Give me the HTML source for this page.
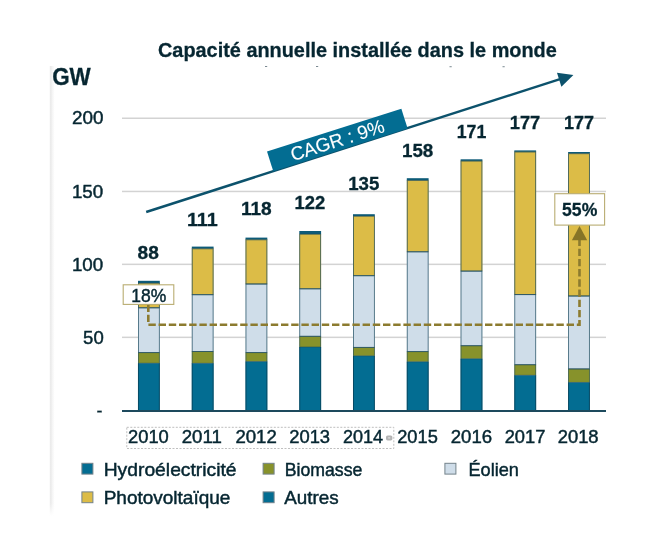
<!DOCTYPE html>
<html lang="fr"><head><meta charset="utf-8"><title>Capacité annuelle installée dans le monde</title>
<style>
html,body{margin:0;padding:0;background:#fff;}
body{width:664px;height:548px;overflow:hidden;}
svg{display:block;filter:blur(0.4px);}
text{font-family:"Liberation Sans",sans-serif;fill:#062631;}
.b{font-weight:bold;stroke-width:0.3px;}
text{stroke:#062631;stroke-width:0.45px;}
</style></head><body>
<svg width="664" height="548" viewBox="0 0 664 548">
<defs>
<linearGradient id="lf" x1="0" y1="0" x2="0" y2="1"><stop offset="0" stop-color="#e4e4e4"/><stop offset="0.93" stop-color="#e4e4e4"/><stop offset="1" stop-color="#ffffff"/></linearGradient>
<linearGradient id="lh" x1="0" y1="0" x2="1" y2="0"><stop offset="0" stop-color="#f1f1f1"/><stop offset="0.22" stop-color="#e9e9e9"/><stop offset="0.45" stop-color="#f3f3f3"/><stop offset="1" stop-color="#ffffff"/></linearGradient>
<linearGradient id="lv" x1="0" y1="0" x2="0" y2="1"><stop offset="0" stop-color="#ffffff" stop-opacity="0"/><stop offset="0.85" stop-color="#ffffff" stop-opacity="1"/></linearGradient>
</defs>
<rect x="0" y="0" width="664" height="548" fill="#ffffff"/>

<rect x="49.7" y="66" width="5" height="451" fill="url(#lh)"/>
<rect x="49" y="503" width="7" height="15" fill="url(#lv)"/>
<rect x="122" y="117.5" width="484" height="1.5" fill="#d3d3d3"/>
<rect x="122" y="190.7" width="484" height="1.5" fill="#d3d3d3"/>
<rect x="122" y="263.6" width="484" height="1.5" fill="#d3d3d3"/>
<rect x="122" y="336.6" width="484" height="1.5" fill="#d3d3d3"/>
<g>
<rect x="138.0" y="280.8" width="21.8" height="2.5" fill="#0d5b78"/>
<rect x="138.0" y="283.0" width="21.8" height="24.8" fill="#dcbc47"/>
<rect x="138.0" y="307.8" width="21.8" height="44.8" fill="#cfdde9"/>
<rect x="138.0" y="352.6" width="21.8" height="10.6" fill="#87922b"/>
<rect x="138.0" y="363.2" width="21.8" height="47.5" fill="#036d92"/>
<rect x="138.45" y="283.2" width="20.90" height="24.6" fill="none" stroke="#1d4b5d" stroke-width="0.9" stroke-opacity="0.8"/>
<rect x="138.45" y="307.8" width="20.90" height="44.8" fill="none" stroke="#1d4b5d" stroke-width="0.9" stroke-opacity="0.75"/>
<rect x="138.45" y="352.6" width="20.90" height="10.6" fill="none" stroke="#1d4b5d" stroke-width="0.9" stroke-opacity="0.6"/>
<path d="M138.45 363.2 V410.2 M159.35 363.2 V410.2" stroke="#083f55" stroke-width="0.9" stroke-opacity="0.85" fill="none"/>
</g>
<g>
<rect x="191.8" y="246.6" width="21.8" height="2.3" fill="#0d5b78"/>
<rect x="191.8" y="248.6" width="21.8" height="46.1" fill="#dcbc47"/>
<rect x="191.8" y="294.7" width="21.8" height="56.8" fill="#cfdde9"/>
<rect x="191.8" y="351.5" width="21.8" height="11.8" fill="#87922b"/>
<rect x="191.8" y="363.3" width="21.8" height="47.4" fill="#036d92"/>
<rect x="192.21" y="248.8" width="20.90" height="45.9" fill="none" stroke="#1d4b5d" stroke-width="0.9" stroke-opacity="0.8"/>
<rect x="192.21" y="294.7" width="20.90" height="56.8" fill="none" stroke="#1d4b5d" stroke-width="0.9" stroke-opacity="0.75"/>
<rect x="192.21" y="351.5" width="20.90" height="11.8" fill="none" stroke="#1d4b5d" stroke-width="0.9" stroke-opacity="0.6"/>
<path d="M192.21 363.3 V410.2 M213.11 363.3 V410.2" stroke="#083f55" stroke-width="0.9" stroke-opacity="0.85" fill="none"/>
</g>
<g>
<rect x="245.5" y="237.6" width="21.8" height="2.3" fill="#0d5b78"/>
<rect x="245.5" y="239.6" width="21.8" height="44.4" fill="#dcbc47"/>
<rect x="245.5" y="284.0" width="21.8" height="68.6" fill="#cfdde9"/>
<rect x="245.5" y="352.6" width="21.8" height="9.0" fill="#87922b"/>
<rect x="245.5" y="361.6" width="21.8" height="49.1" fill="#036d92"/>
<rect x="245.97" y="239.8" width="20.90" height="44.2" fill="none" stroke="#1d4b5d" stroke-width="0.9" stroke-opacity="0.8"/>
<rect x="245.97" y="284.0" width="20.90" height="68.6" fill="none" stroke="#1d4b5d" stroke-width="0.9" stroke-opacity="0.75"/>
<rect x="245.97" y="352.6" width="20.90" height="9.0" fill="none" stroke="#1d4b5d" stroke-width="0.9" stroke-opacity="0.6"/>
<path d="M245.97 361.6 V410.2 M266.87 361.6 V410.2" stroke="#083f55" stroke-width="0.9" stroke-opacity="0.85" fill="none"/>
</g>
<g>
<rect x="299.3" y="231.0" width="21.8" height="3.3" fill="#0d5b78"/>
<rect x="299.3" y="234.0" width="21.8" height="54.8" fill="#dcbc47"/>
<rect x="299.3" y="288.8" width="21.8" height="47.5" fill="#cfdde9"/>
<rect x="299.3" y="336.3" width="21.8" height="10.7" fill="#87922b"/>
<rect x="299.3" y="347.0" width="21.8" height="63.8" fill="#036d92"/>
<rect x="299.73" y="234.2" width="20.90" height="54.6" fill="none" stroke="#1d4b5d" stroke-width="0.9" stroke-opacity="0.8"/>
<rect x="299.73" y="288.8" width="20.90" height="47.5" fill="none" stroke="#1d4b5d" stroke-width="0.9" stroke-opacity="0.75"/>
<rect x="299.73" y="336.3" width="20.90" height="10.7" fill="none" stroke="#1d4b5d" stroke-width="0.9" stroke-opacity="0.6"/>
<path d="M299.73 347.0 V410.2 M320.63 347.0 V410.2" stroke="#083f55" stroke-width="0.9" stroke-opacity="0.85" fill="none"/>
</g>
<g>
<rect x="353.0" y="214.2" width="21.8" height="2.1" fill="#0d5b78"/>
<rect x="353.0" y="216.0" width="21.8" height="59.7" fill="#dcbc47"/>
<rect x="353.0" y="275.7" width="21.8" height="71.7" fill="#cfdde9"/>
<rect x="353.0" y="347.4" width="21.8" height="8.5" fill="#87922b"/>
<rect x="353.0" y="355.9" width="21.8" height="54.8" fill="#036d92"/>
<rect x="353.49" y="216.2" width="20.90" height="59.5" fill="none" stroke="#1d4b5d" stroke-width="0.9" stroke-opacity="0.8"/>
<rect x="353.49" y="275.7" width="20.90" height="71.7" fill="none" stroke="#1d4b5d" stroke-width="0.9" stroke-opacity="0.75"/>
<rect x="353.49" y="347.4" width="20.90" height="8.5" fill="none" stroke="#1d4b5d" stroke-width="0.9" stroke-opacity="0.6"/>
<path d="M353.49 355.9 V410.2 M374.39 355.9 V410.2" stroke="#083f55" stroke-width="0.9" stroke-opacity="0.85" fill="none"/>
</g>
<g>
<rect x="406.8" y="178.2" width="21.8" height="2.3" fill="#0d5b78"/>
<rect x="406.8" y="180.2" width="21.8" height="71.6" fill="#dcbc47"/>
<rect x="406.8" y="251.8" width="21.8" height="99.8" fill="#cfdde9"/>
<rect x="406.8" y="351.6" width="21.8" height="10.2" fill="#87922b"/>
<rect x="406.8" y="361.8" width="21.8" height="48.9" fill="#036d92"/>
<rect x="407.25" y="180.4" width="20.90" height="71.4" fill="none" stroke="#1d4b5d" stroke-width="0.9" stroke-opacity="0.8"/>
<rect x="407.25" y="251.8" width="20.90" height="99.8" fill="none" stroke="#1d4b5d" stroke-width="0.9" stroke-opacity="0.75"/>
<rect x="407.25" y="351.6" width="20.90" height="10.2" fill="none" stroke="#1d4b5d" stroke-width="0.9" stroke-opacity="0.6"/>
<path d="M407.25 361.8 V410.2 M428.15 361.8 V410.2" stroke="#083f55" stroke-width="0.9" stroke-opacity="0.85" fill="none"/>
</g>
<g>
<rect x="460.6" y="159.3" width="21.8" height="1.9" fill="#0d5b78"/>
<rect x="460.6" y="160.9" width="21.8" height="110.2" fill="#dcbc47"/>
<rect x="460.6" y="271.1" width="21.8" height="74.6" fill="#cfdde9"/>
<rect x="460.6" y="345.7" width="21.8" height="13.1" fill="#87922b"/>
<rect x="460.6" y="358.8" width="21.8" height="51.9" fill="#036d92"/>
<rect x="461.01" y="161.1" width="20.90" height="110.0" fill="none" stroke="#1d4b5d" stroke-width="0.9" stroke-opacity="0.8"/>
<rect x="461.01" y="271.1" width="20.90" height="74.6" fill="none" stroke="#1d4b5d" stroke-width="0.9" stroke-opacity="0.75"/>
<rect x="461.01" y="345.7" width="20.90" height="13.1" fill="none" stroke="#1d4b5d" stroke-width="0.9" stroke-opacity="0.6"/>
<path d="M461.01 358.8 V410.2 M481.91 358.8 V410.2" stroke="#083f55" stroke-width="0.9" stroke-opacity="0.85" fill="none"/>
</g>
<g>
<rect x="514.3" y="150.4" width="21.8" height="1.7" fill="#0d5b78"/>
<rect x="514.3" y="151.8" width="21.8" height="142.8" fill="#dcbc47"/>
<rect x="514.3" y="294.6" width="21.8" height="70.1" fill="#cfdde9"/>
<rect x="514.3" y="364.7" width="21.8" height="10.6" fill="#87922b"/>
<rect x="514.3" y="375.3" width="21.8" height="35.4" fill="#036d92"/>
<rect x="514.77" y="152.0" width="20.90" height="142.6" fill="none" stroke="#1d4b5d" stroke-width="0.9" stroke-opacity="0.8"/>
<rect x="514.77" y="294.6" width="20.90" height="70.1" fill="none" stroke="#1d4b5d" stroke-width="0.9" stroke-opacity="0.75"/>
<rect x="514.77" y="364.7" width="20.90" height="10.6" fill="none" stroke="#1d4b5d" stroke-width="0.9" stroke-opacity="0.6"/>
<path d="M514.77 375.3 V410.2 M535.67 375.3 V410.2" stroke="#083f55" stroke-width="0.9" stroke-opacity="0.85" fill="none"/>
</g>
<g>
<rect x="568.1" y="152.0" width="21.8" height="1.8" fill="#0d5b78"/>
<rect x="568.1" y="153.5" width="21.8" height="142.5" fill="#dcbc47"/>
<rect x="568.1" y="296.0" width="21.8" height="72.9" fill="#cfdde9"/>
<rect x="568.1" y="368.9" width="21.8" height="13.5" fill="#87922b"/>
<rect x="568.1" y="382.4" width="21.8" height="28.3" fill="#036d92"/>
<rect x="568.53" y="153.7" width="20.90" height="142.3" fill="none" stroke="#1d4b5d" stroke-width="0.9" stroke-opacity="0.8"/>
<rect x="568.53" y="296.0" width="20.90" height="72.9" fill="none" stroke="#1d4b5d" stroke-width="0.9" stroke-opacity="0.75"/>
<rect x="568.53" y="368.9" width="20.90" height="13.5" fill="none" stroke="#1d4b5d" stroke-width="0.9" stroke-opacity="0.6"/>
<path d="M568.53 382.4 V410.2 M589.43 382.4 V410.2" stroke="#083f55" stroke-width="0.9" stroke-opacity="0.85" fill="none"/>
</g>
<rect x="122" y="410" width="484" height="2" fill="#1d4a5d"/>
<path d="M148.3 304.5 V324.8 H579.5 V239" fill="none" stroke="#8c7b2f" stroke-width="2.6" stroke-dasharray="7.4 2.8"/>
<path d="M579.5 226 L587.2 240.3 L571.9 240.3 Z" fill="#857427"/>
<rect x="123.2" y="284.8" width="50.6" height="19.6" fill="#ffffff" stroke="#b9ad72" stroke-width="1.1"/>
<text x="131.2" y="302.3" font-size="18.6" textLength="35" lengthAdjust="spacingAndGlyphs">18%</text>
<rect x="554.8" y="193.7" width="49.8" height="31.4" fill="#ffffff" stroke="#b9ad72" stroke-width="1.1"/>
<text class="b" x="562.1" y="216.4" font-size="18.4" textLength="35.2" lengthAdjust="spacingAndGlyphs">55%</text>
<path d="M146.2 212 L560 79.2" stroke="#0c526c" stroke-width="2.4" fill="none"/>
<path d="M573.4 75 L557 72.7 L561.4 86.7 Z" fill="#0c526c"/>
<g transform="translate(337.3 140) rotate(-17.7)"><rect x="-70.5" y="-10.3" width="141" height="20.6" fill="#036d92"/><text x="-48.8" y="6.8" font-size="19" textLength="97.5" lengthAdjust="spacingAndGlyphs" style="fill:#ffffff;stroke:#ffffff;stroke-width:0.1px">CAGR : 9%</text></g>
<text class="b" x="158" y="56.8" font-size="20.8" textLength="398.8" lengthAdjust="spacingAndGlyphs">Capacité annuelle installée dans le monde</text>
<rect x="265.0" y="66.0" width="2.2" height="0.9" fill="#6b7c85"/>
<rect x="316.0" y="66.0" width="2.2" height="0.9" fill="#6b7c85"/>
<rect x="449.5" y="66.3" width="2.2" height="0.9" fill="#6b7c85"/>
<rect x="502.5" y="66.3" width="2.2" height="0.9" fill="#6b7c85"/>
<text class="b" x="52.2" y="84.6" font-size="24" textLength="38.6" lengthAdjust="spacingAndGlyphs">GW</text>
<text x="71.9" y="124.4" font-size="18.2" textLength="31.5" lengthAdjust="spacingAndGlyphs">200</text>
<text x="71.9" y="197.6" font-size="18.2" textLength="31.3" lengthAdjust="spacingAndGlyphs">150</text>
<text x="71.9" y="270.7" font-size="18.2" textLength="31.3" lengthAdjust="spacingAndGlyphs">100</text>
<text x="83.1" y="343.8" font-size="18.2" textLength="20.6" lengthAdjust="spacingAndGlyphs">50</text>
<text x="96.6" y="417.2" font-size="18" textLength="6" lengthAdjust="spacingAndGlyphs" style="stroke-width:0.2px">-</text>
<text class="b" x="137.6" y="259.0" font-size="18.2" textLength="21.2" lengthAdjust="spacingAndGlyphs">88</text>
<text class="b" x="186.9" y="226.3" font-size="18.2" textLength="30.8" lengthAdjust="spacingAndGlyphs">111</text>
<text class="b" x="240.9" y="215.3" font-size="18.2" textLength="30.8" lengthAdjust="spacingAndGlyphs">118</text>
<text class="b" x="294.4" y="208.5" font-size="18.2" textLength="30.8" lengthAdjust="spacingAndGlyphs">122</text>
<text class="b" x="348.2" y="189.8" font-size="18.2" textLength="31.2" lengthAdjust="spacingAndGlyphs">135</text>
<text class="b" x="402.0" y="156.6" font-size="18.2" textLength="31.3" lengthAdjust="spacingAndGlyphs">158</text>
<text class="b" x="456.7" y="137.7" font-size="18.2" textLength="29.6" lengthAdjust="spacingAndGlyphs">171</text>
<text class="b" x="509.7" y="129.0" font-size="18.2" textLength="30.6" lengthAdjust="spacingAndGlyphs">177</text>
<text class="b" x="563.9" y="129.0" font-size="18.2" textLength="30.1" lengthAdjust="spacingAndGlyphs">177</text>
<rect x="126.8" y="427.3" width="267" height="21.2" fill="none" stroke="#bfbfbf" stroke-width="1" stroke-dasharray="2 1.5"/>
<rect x="386" y="435.4" width="6.4" height="5" rx="1.6" fill="#b4b4b4"/><rect x="388" y="437" width="2.4" height="1.8" rx="0.8" fill="#d6d6d6"/>
<text x="128.0" y="443.2" font-size="17.8" textLength="40.8" lengthAdjust="spacingAndGlyphs">2010</text>
<text x="181.7" y="443.2" font-size="17.8" textLength="40.2" lengthAdjust="spacingAndGlyphs">2011</text>
<text x="235.4" y="443.2" font-size="17.8" textLength="41.4" lengthAdjust="spacingAndGlyphs">2012</text>
<text x="289.2" y="443.2" font-size="17.8" textLength="40.9" lengthAdjust="spacingAndGlyphs">2013</text>
<text x="343.0" y="443.2" font-size="17.8" textLength="40.1" lengthAdjust="spacingAndGlyphs">2014</text>
<text x="397.2" y="443.2" font-size="17.8" textLength="40.6" lengthAdjust="spacingAndGlyphs">2015</text>
<text x="450.7" y="443.2" font-size="17.8" textLength="41.4" lengthAdjust="spacingAndGlyphs">2016</text>
<text x="504.7" y="443.2" font-size="17.8" textLength="40.7" lengthAdjust="spacingAndGlyphs">2017</text>
<text x="557.7" y="443.2" font-size="17.8" textLength="40.9" lengthAdjust="spacingAndGlyphs">2018</text>
<rect x="81.9" y="463.3" width="11" height="10.8" fill="#036d92" stroke="#74838b" stroke-width="1"/>
<text x="103.7" y="475.5" font-size="17.8" textLength="132.9" lengthAdjust="spacingAndGlyphs">Hydroélectricité</text>
<rect x="263.1" y="463.3" width="11" height="10.8" fill="#87922b" stroke="#74838b" stroke-width="1"/>
<text x="284.7" y="475.5" font-size="17.8" textLength="77.7" lengthAdjust="spacingAndGlyphs">Biomasse</text>
<rect x="444.9" y="463.3" width="11" height="10.8" fill="#cfdde9" stroke="#74838b" stroke-width="1"/>
<text x="468.5" y="475.5" font-size="17.8" textLength="50.4" lengthAdjust="spacingAndGlyphs">Éolien</text>
<rect x="81.9" y="491.9" width="11" height="10.8" fill="#dcbc47" stroke="#74838b" stroke-width="1"/>
<text x="103.7" y="504.2" font-size="17.8" textLength="126.7" lengthAdjust="spacingAndGlyphs">Photovoltaïque</text>
<rect x="263.1" y="491.9" width="11" height="10.8" fill="#036d92" stroke="#74838b" stroke-width="1"/>
<text x="284.2" y="504.2" font-size="17.8" textLength="54.4" lengthAdjust="spacingAndGlyphs">Autres</text>
</svg>
</body></html>
